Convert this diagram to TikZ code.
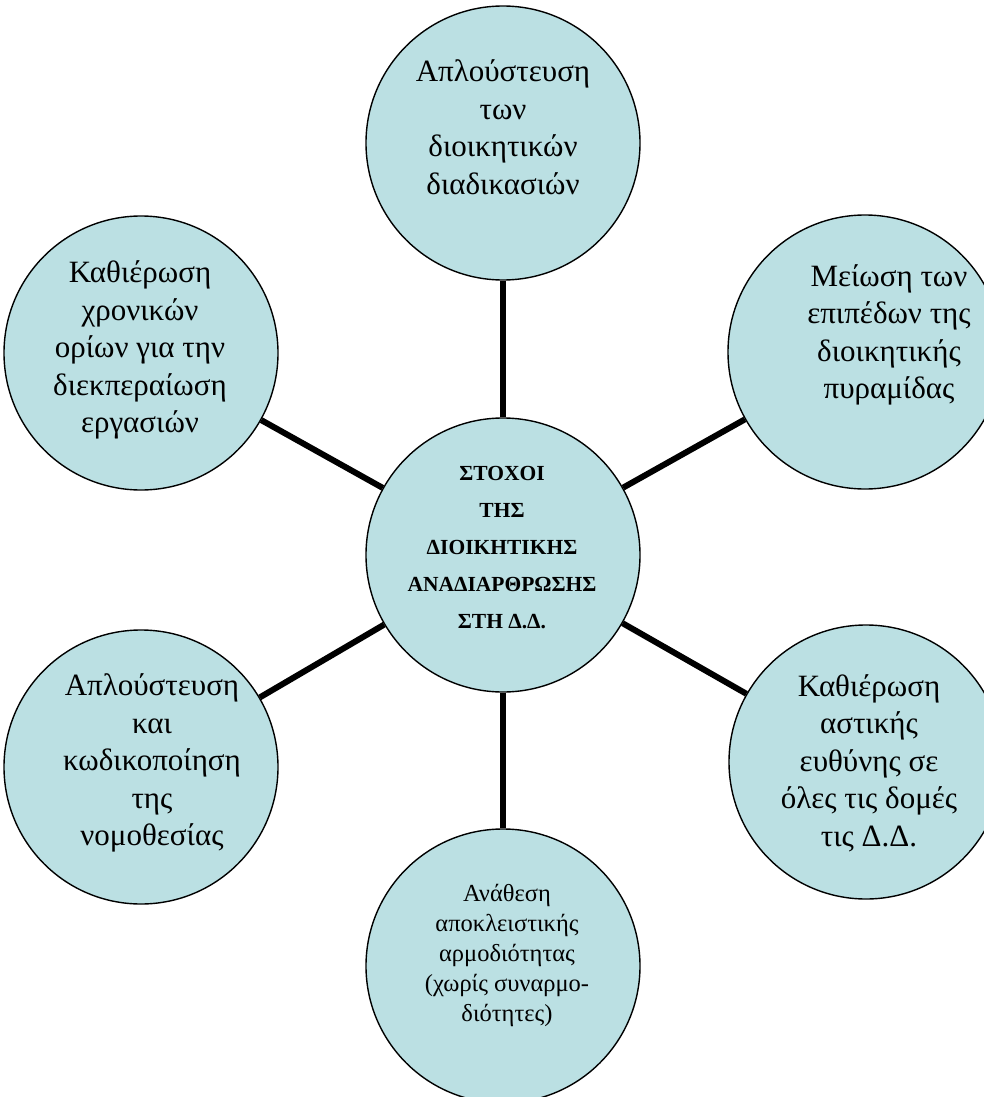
\documentclass[tikz,border=0pt]{standalone}
\usepackage{fontspec}
\setmainfont{Liberation Serif}
\definecolor{bubblefill}{RGB}{187,224,227}
\begin{document}
\begin{tikzpicture}[x=1pt,y=-1pt,
  bubble/.style={circle,draw=black,line width=1.4pt,fill=bubblefill,minimum size=274pt,inner sep=0pt},
  link/.style={line width=6pt},
  bigtext/.style={align=center,inner sep=0pt,font=\fontsize{31}{37.5}\selectfont},
  midtext/.style={align=center,inner sep=0pt,font=\fontsize{24.5}{30}\selectfont},
  hubtext/.style={align=center,inner sep=0pt,font=\fontsize{21.5}{37}\selectfont\bfseries}]
\useasboundingbox (0,0) rectangle (984,1097);
\clip (0,0) rectangle (984,1097);
\node[bubble] (hub) at (503,555) {};
\node[bubble] (top) at (503,143) {};
\node[bubble] (rt) at (865,352) {};
\node[bubble] (lt) at (141,353) {};
\node[bubble] (lb) at (141,767) {};
\node[bubble] (rb) at (866,762) {};
\node[bubble] (bot) at (503,966) {};
\draw[link] (hub) -- (top);
\draw[link] (hub) -- (rt);
\draw[link] (hub) -- (lt);
\draw[link] (hub) -- (lb);
\draw[link] (hub) -- (rb);
\draw[link] (hub) -- (bot);
\node[hubtext] (hubT) at (502,548) {ΣΤΟΧΟΙ\\ΤΗΣ\\ΔΙΟΙΚΗΤΙΚΗΣ\\ΑΝΑΔΙΑΡΘΡΩΣΗΣ\\ΣΤΗ Δ.Δ.};
\node[bigtext] (topT) at (503,127) {Απλούστευση\\των\\διοικητικών\\διαδικασιών};
\node[bigtext] (rtT) at (889,335) {Μείωση των\\επιπέδων της\\διοικητικής\\πυραμίδας};
\node[bigtext] (ltT) at (140,350) {Καθιέρωση\\χρονικών\\ορίων για την\\διεκπεραίωση\\εργασιών};
\node[bigtext] (lbT) at (152,763) {Απλούστευση\\και\\κωδικοποίηση\\της\\νομοθεσίας};
\node[bigtext] (rbT) at (869,763) {Καθιέρωση\\αστικής\\ευθύνης σε\\όλες τις δομές\\τις Δ.Δ.};
\node[midtext] (botT) at (507,955) {Ανάθεση\\αποκλειστικής\\αρμοδιότητας\\(χωρίς συναρμο-\\διότητες)};
\end{tikzpicture}
\end{document}
